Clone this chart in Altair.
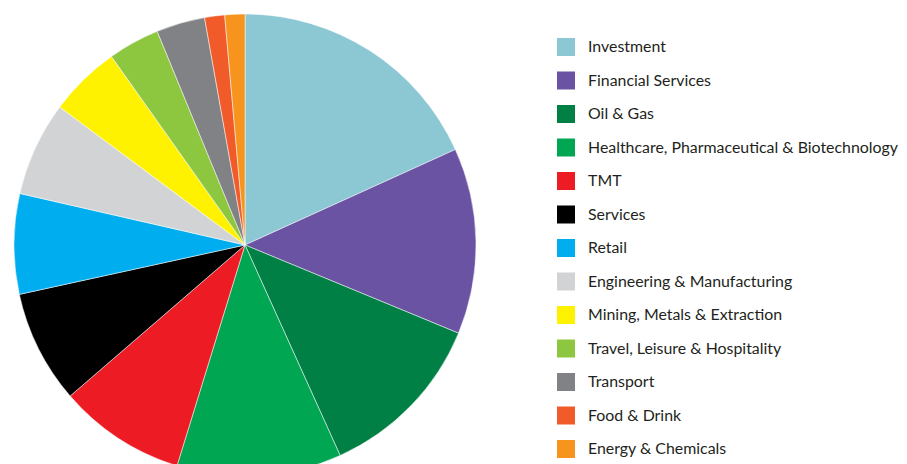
import altair as alt
import pandas as pd

sectors = [
    "Investment",
    "Financial Services",
    "Oil & Gas",
    "Healthcare, Pharmaceutical & Biotechnology",
    "TMT",
    "Services",
    "Retail",
    "Engineering & Manufacturing",
    "Mining, Metals & Extraction",
    "Travel, Leisure & Hospitality",
    "Transport",
    "Food & Drink",
    "Energy & Chemicals",
]
shares = [18.2, 13.0, 12.0, 11.5, 8.9, 7.9, 7.0, 6.6, 5.0, 3.6, 3.4, 1.4, 1.4]
colors = [
    "#8cc7d4", "#6953a2", "#008045", "#00a651", "#ed1c24", "#000000",
    "#00aeef", "#d1d3d4", "#fff200", "#8dc63f", "#808285", "#f15a29", "#f7941d",
]

df = pd.DataFrame({"sector": sectors, "share": shares, "order": list(range(len(sectors)))})

chart = (
    alt.Chart(df)
    .mark_arc(outerRadius=231, stroke="white", strokeWidth=0.5)
    .encode(
        x=alt.value(237),
        y=alt.value(237),
        theta=alt.Theta("share:Q", stack=True),
        order=alt.Order("order:Q"),
        color=alt.Color(
            "sector:N",
            sort=sectors,
            scale=alt.Scale(domain=sectors, range=colors),
            legend=alt.Legend(
                title=None,
                orient="none",
                legendX=549,
                legendY=30,
                symbolType="square",
                symbolSize=324,
                symbolStrokeWidth=0,
                symbolOpacity=1,
                labelFont="Lato",
                labelFontSize=15.9,
                labelColor="#231f20",
                labelOffset=13,
                labelLimit=400,
                rowPadding=15.5,
                padding=0,
            ),
        ),
    )
    .properties(width=891, height=456, autosize=alt.AutoSizeParams(type="none"), padding=0)
    .configure_view(stroke=None)
)

chart.save("out.html", embed_options={"renderer": "svg", "actions": False})
